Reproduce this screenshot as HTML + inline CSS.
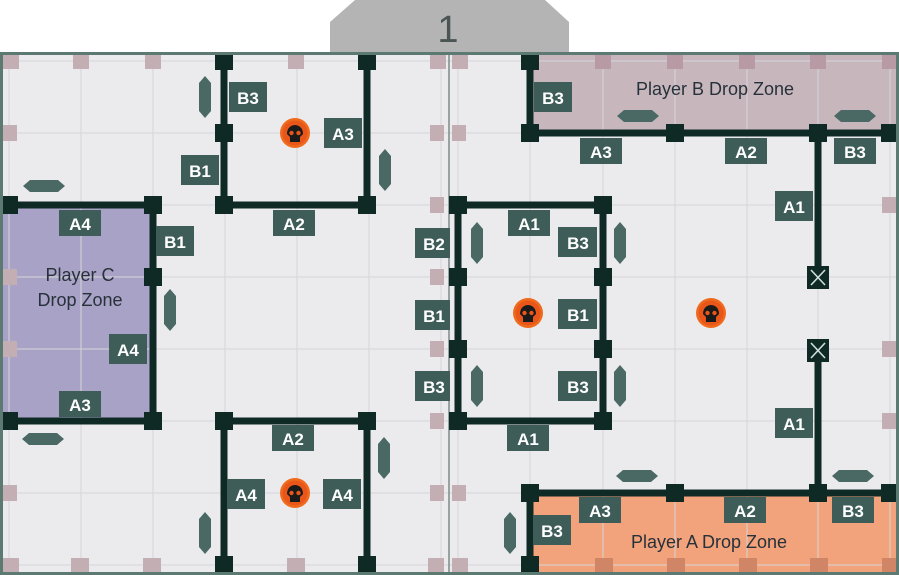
<!DOCTYPE html>
<html><head><meta charset="utf-8"><style>
html,body{margin:0;padding:0;background:#fff;}
svg{display:block;}
.l text{font-family:"Liberation Sans",sans-serif;font-weight:bold;font-size:17px;fill:#fff;text-anchor:middle;}
.z{font-family:"Liberation Sans",sans-serif;font-size:18px;fill:#27313a;text-anchor:middle;}
</style></head><body>
<svg width="899" height="575" viewBox="0 0 899 575" xmlns="http://www.w3.org/2000/svg">
<!-- tab -->
<polygon points="330,52 330,22 355,0 545,0 569,22 569,52" fill="#b4b4b4"/>
<text x="448" y="42" font-family="Liberation Sans,sans-serif" font-size="38" fill="#4a5454" text-anchor="middle">1</text>
<!-- board -->
<rect x="0" y="52" width="899" height="523" fill="#5d7a72"/>
<rect x="3" y="55" width="893" height="517" fill="#ebebed"/>
<!-- zones -->
<rect x="3" y="205" width="150" height="216" fill="#a9a2c7"/>
<rect x="530" y="55" width="366" height="78" fill="#c7b7bd"/>
<rect x="530" y="493" width="366" height="79" fill="#f2a37b"/>
<!-- grid -->
<g stroke="#d6d6da" stroke-width="1">
<line x1="81" y1="55" x2="81" y2="572"/><line x1="153" y1="55" x2="153" y2="572"/><line x1="225" y1="55" x2="225" y2="572"/><line x1="297" y1="55" x2="297" y2="572"/><line x1="369" y1="55" x2="369" y2="572"/>
<line x1="530" y1="55" x2="530" y2="572"/><line x1="603" y1="55" x2="603" y2="572"/><line x1="675" y1="55" x2="675" y2="572"/><line x1="747" y1="55" x2="747" y2="572"/><line x1="818" y1="55" x2="818" y2="572"/><line x1="890" y1="55" x2="890" y2="572"/><line x1="9" y1="55" x2="9" y2="572"/><line x1="441" y1="55" x2="441" y2="572"/><line x1="458" y1="55" x2="458" y2="572"/>
<line x1="3" y1="61" x2="896" y2="61"/><line x1="3" y1="133" x2="896" y2="133"/><line x1="3" y1="205" x2="896" y2="205"/><line x1="3" y1="277" x2="896" y2="277"/><line x1="3" y1="349" x2="896" y2="349"/><line x1="3" y1="421" x2="896" y2="421"/><line x1="3" y1="493" x2="896" y2="493"/><line x1="3" y1="565" x2="896" y2="565"/>
</g>
<line x1="449" y1="55" x2="449" y2="572" stroke="#7d8a88" stroke-width="1.5"/>
<!-- edge markers -->
<g fill="#c2aeb3">
<rect x="3" y="55" width="16" height="14"/><rect x="73" y="55" width="16" height="14"/><rect x="145" y="55" width="16" height="14"/><rect x="288" y="55" width="16" height="14"/><rect x="430" y="55" width="16" height="14"/>
<rect x="452" y="55" width="16" height="14"/><rect x="595" y="55" width="16" height="14"/><rect x="667" y="55" width="16" height="14"/><rect x="739" y="55" width="16" height="14"/><rect x="810" y="55" width="16" height="14"/><rect x="882" y="55" width="14" height="14"/>
<rect x="3" y="125" width="14" height="16"/><rect x="3" y="269" width="14" height="16"/><rect x="3" y="341" width="14" height="16"/><rect x="3" y="485" width="14" height="16"/>
<rect x="430" y="125" width="14" height="16"/><rect x="430" y="197" width="14" height="16"/><rect x="430" y="269" width="14" height="16"/><rect x="430" y="341" width="14" height="16"/><rect x="430" y="413" width="14" height="16"/><rect x="430" y="485" width="14" height="16"/>
<rect x="452" y="125" width="14" height="16"/><rect x="452" y="485" width="14" height="16"/>
<rect x="882" y="197" width="14" height="16"/><rect x="882" y="341" width="14" height="16"/><rect x="882" y="413" width="14" height="16"/>
<rect x="3" y="558" width="16" height="14"/><rect x="71" y="558" width="18" height="14"/><rect x="143" y="558" width="18" height="14"/><rect x="287" y="558" width="18" height="14"/><rect x="428" y="558" width="16" height="14"/><rect x="452" y="558" width="16" height="14"/>
</g>
<g fill="#b79aa3">
<rect x="595" y="55" width="16" height="14"/><rect x="667" y="55" width="16" height="14"/><rect x="739" y="55" width="16" height="14"/><rect x="810" y="55" width="16" height="14"/><rect x="882" y="55" width="14" height="14"/>
</g>
<g fill="#cf8566">
<rect x="595" y="558" width="18" height="14"/><rect x="667" y="558" width="18" height="14"/><rect x="739" y="558" width="18" height="14"/><rect x="810" y="558" width="18" height="14"/><rect x="882" y="558" width="14" height="14"/>
</g>
<!-- walls -->
<g stroke="#0f2a25" stroke-width="7" fill="none" stroke-linecap="butt">
<polyline points="224,55 224,205 367,205 367,55"/>
<polyline points="3,205 153,205 153,421 3,421"/>
<polyline points="224,572 224,421 367,421 367,572"/>
<rect x="458" y="205" width="145" height="216"/>
<polyline points="530,55 530,133 896,133"/>
<line x1="818" y1="133" x2="818" y2="266"/>
<line x1="818" y1="361" x2="818" y2="493"/>
<polyline points="530,572 530,493 896,493"/>
</g>
<g fill="#0f2a25">
<rect x="215" y="55" width="18" height="15"/><rect x="358" y="55" width="18" height="15"/><rect x="215" y="124" width="18" height="18"/><rect x="215" y="196" width="18" height="18"/><rect x="358" y="196" width="18" height="18"/>
<rect x="3" y="196" width="15" height="18"/><rect x="144" y="196" width="18" height="18"/><rect x="144" y="268" width="18" height="18"/><rect x="3" y="412" width="15" height="18"/><rect x="144" y="412" width="18" height="18"/>
<rect x="215" y="412" width="18" height="18"/><rect x="358" y="412" width="18" height="18"/><rect x="215" y="556" width="18" height="16"/><rect x="358" y="556" width="18" height="16"/>
<rect x="449" y="196" width="18" height="18"/><rect x="594" y="196" width="18" height="18"/><rect x="449" y="268" width="18" height="18"/><rect x="594" y="268" width="18" height="18"/><rect x="449" y="340" width="18" height="18"/><rect x="594" y="340" width="18" height="18"/><rect x="449" y="412" width="18" height="18"/><rect x="594" y="412" width="18" height="18"/>
<rect x="521" y="55" width="18" height="15"/><rect x="521" y="124" width="18" height="18"/><rect x="666" y="124" width="18" height="18"/><rect x="809" y="124" width="18" height="18"/><rect x="881" y="124" width="15" height="18"/>
<rect x="521" y="484" width="18" height="18"/><rect x="666" y="484" width="18" height="18"/><rect x="809" y="484" width="18" height="18"/><rect x="881" y="484" width="15" height="18"/><rect x="521" y="556" width="18" height="16"/>
<rect x="807" y="266" width="22" height="23"/><rect x="807" y="339" width="22" height="23"/>
</g>
<g stroke="#cfe0dc" stroke-width="1.6">
<line x1="811" y1="270" x2="825" y2="285"/><line x1="825" y1="270" x2="811" y2="285"/>
<line x1="811" y1="343" x2="825" y2="358"/><line x1="825" y1="343" x2="811" y2="358"/>
</g>
<!-- hex tokens -->
<g fill="#4b6964">
<polygon transform="translate(205,97)" points="0,-21 6,-14 6,14 0,21 -6,14 -6,-14"/>
<polygon transform="translate(385,170)" points="0,-21 6,-14 6,14 0,21 -6,14 -6,-14"/>
<polygon transform="translate(170,310)" points="0,-21 6,-14 6,14 0,21 -6,14 -6,-14"/>
<polygon transform="translate(477,243)" points="0,-21 6,-14 6,14 0,21 -6,14 -6,-14"/>
<polygon transform="translate(620,243)" points="0,-21 6,-14 6,14 0,21 -6,14 -6,-14"/>
<polygon transform="translate(477,386)" points="0,-21 6,-14 6,14 0,21 -6,14 -6,-14"/>
<polygon transform="translate(620,386)" points="0,-21 6,-14 6,14 0,21 -6,14 -6,-14"/>
<polygon transform="translate(384,458)" points="0,-21 6,-14 6,14 0,21 -6,14 -6,-14"/>
<polygon transform="translate(205,533)" points="0,-21 6,-14 6,14 0,21 -6,14 -6,-14"/>
<polygon transform="translate(510,533)" points="0,-21 6,-14 6,14 0,21 -6,14 -6,-14"/>
<polygon transform="translate(44,186)" points="-21,0 -14,-6 14,-6 21,0 14,6 -14,6"/>
<polygon transform="translate(43,439)" points="-21,0 -14,-6 14,-6 21,0 14,6 -14,6"/>
<polygon transform="translate(638,116)" points="-21,0 -14,-6 14,-6 21,0 14,6 -14,6"/>
<polygon transform="translate(855,116)" points="-21,0 -14,-6 14,-6 21,0 14,6 -14,6"/>
<polygon transform="translate(637,476)" points="-21,0 -14,-6 14,-6 21,0 14,6 -14,6"/>
<polygon transform="translate(853,476)" points="-21,0 -14,-6 14,-6 21,0 14,6 -14,6"/>
</g>
<!-- skulls -->
<g>
<g transform="translate(295,133)"><circle r="15" fill="#f06a1e"/><circle r="12.5" fill="#e8561a"/><path d="M-8,1 C-8,-11 8,-11 8,1 L5,4 L5,9 L-5,9 L-5,4 Z" fill="#1a1a1a"/><circle cx="-3.5" cy="0" r="2.2" fill="#e8561a"/><circle cx="3.5" cy="0" r="2.2" fill="#e8561a"/></g>
<g transform="translate(528,313)"><circle r="15" fill="#f06a1e"/><circle r="12.5" fill="#e8561a"/><path d="M-8,1 C-8,-11 8,-11 8,1 L5,4 L5,9 L-5,9 L-5,4 Z" fill="#1a1a1a"/><circle cx="-3.5" cy="0" r="2.2" fill="#e8561a"/><circle cx="3.5" cy="0" r="2.2" fill="#e8561a"/></g>
<g transform="translate(711,313)"><circle r="15" fill="#f06a1e"/><circle r="12.5" fill="#e8561a"/><path d="M-8,1 C-8,-11 8,-11 8,1 L5,4 L5,9 L-5,9 L-5,4 Z" fill="#1a1a1a"/><circle cx="-3.5" cy="0" r="2.2" fill="#e8561a"/><circle cx="3.5" cy="0" r="2.2" fill="#e8561a"/></g>
<g transform="translate(295,493)"><circle r="15" fill="#f06a1e"/><circle r="12.5" fill="#e8561a"/><path d="M-8,1 C-8,-11 8,-11 8,1 L5,4 L5,9 L-5,9 L-5,4 Z" fill="#1a1a1a"/><circle cx="-3.5" cy="0" r="2.2" fill="#e8561a"/><circle cx="3.5" cy="0" r="2.2" fill="#e8561a"/></g>
</g>
<!-- zone texts -->
<text class="z" x="80" y="281">Player C</text>
<text class="z" x="80" y="306">Drop Zone</text>
<text class="z" x="715" y="95">Player B Drop Zone</text>
<text class="z" x="709" y="548">Player A Drop Zone</text>
<!-- labels -->
<g class="l" fill="#3e5d59">
<rect x="229" y="82" width="38" height="30"/><text x="248" y="104">B3</text>
<rect x="324" y="118" width="38" height="30"/><text x="343" y="140">A3</text>
<rect x="181" y="155" width="38" height="30"/><text x="200" y="177">B1</text>
<rect x="59" y="210" width="42" height="26"/><text x="80" y="230">A4</text>
<rect x="156" y="226" width="38" height="30"/><text x="175" y="248">B1</text>
<rect x="273" y="210" width="42" height="26"/><text x="294" y="230">A2</text>
<rect x="415" y="228" width="35" height="30"/><text x="434" y="250">B2</text>
<rect x="415" y="300" width="35" height="30"/><text x="434" y="322">B1</text>
<rect x="415" y="371" width="35" height="30"/><text x="434" y="393">B3</text>
<rect x="109" y="334" width="38" height="30"/><text x="128" y="356">A4</text>
<rect x="59" y="391" width="42" height="26"/><text x="80" y="411">A3</text>
<rect x="272" y="425" width="42" height="26"/><text x="293" y="445">A2</text>
<rect x="227" y="479" width="38" height="30"/><text x="246" y="501">A4</text>
<rect x="323" y="479" width="38" height="30"/><text x="342" y="501">A4</text>
<rect x="534" y="82" width="38" height="30"/><text x="553" y="104">B3</text>
<rect x="580" y="138" width="42" height="26"/><text x="601" y="158">A3</text>
<rect x="725" y="138" width="42" height="26"/><text x="746" y="158">A2</text>
<rect x="834" y="138" width="42" height="26"/><text x="855" y="158">B3</text>
<rect x="775" y="191" width="38" height="30"/><text x="794" y="213">A1</text>
<rect x="508" y="210" width="42" height="26"/><text x="529" y="230">A1</text>
<rect x="558" y="227" width="39" height="30"/><text x="578" y="249">B3</text>
<rect x="558" y="299" width="39" height="30"/><text x="578" y="321">B1</text>
<rect x="558" y="371" width="39" height="30"/><text x="578" y="393">B3</text>
<rect x="507" y="425" width="42" height="26"/><text x="528" y="445">A1</text>
<rect x="775" y="408" width="38" height="30"/><text x="794" y="430">A1</text>
<rect x="579" y="497" width="42" height="26"/><text x="600" y="517">A3</text>
<rect x="724" y="497" width="42" height="26"/><text x="745" y="517">A2</text>
<rect x="832" y="497" width="42" height="26"/><text x="853" y="517">B3</text>
<rect x="533" y="515" width="38" height="30"/><text x="552" y="537">B3</text>
</g>
</svg>
</body></html>
